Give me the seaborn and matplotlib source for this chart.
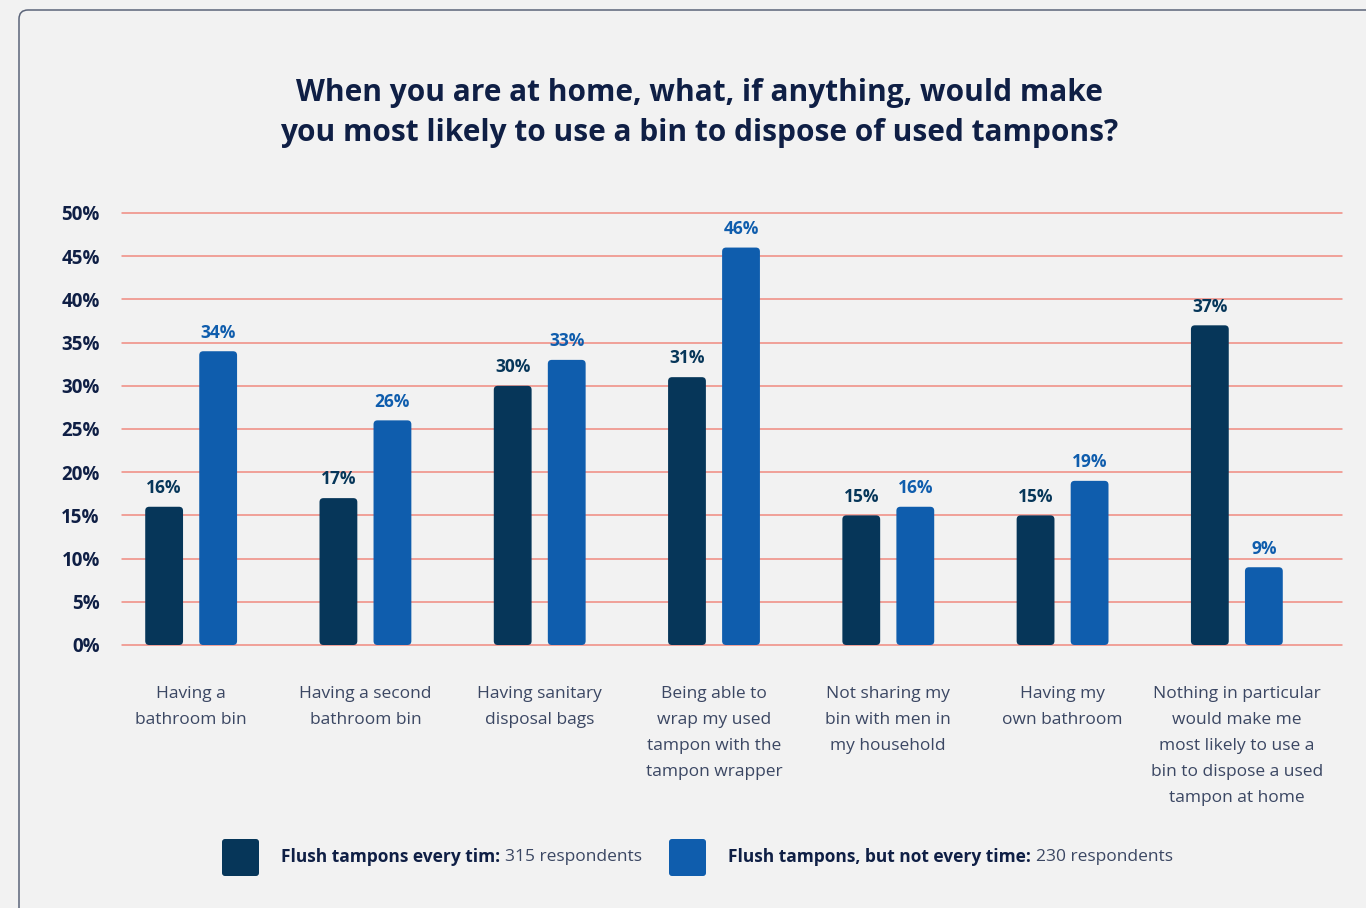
import matplotlib
matplotlib.use("Agg")
import matplotlib.pyplot as plt
from matplotlib.patches import FancyBboxPatch
from matplotlib.transforms import IdentityTransform
import pandas as pd
import seaborn as sns

# Survey answers and shares (%) per respondent group
categories = [
    "Having a\nbathroom bin",
    "Having a second\nbathroom bin",
    "Having sanitary\ndisposal bags",
    "Being able to\nwrap my used\ntampon with the\ntampon wrapper",
    "Not sharing my\nbin with men in\nmy household",
    "Having my\nown bathroom",
    "Nothing in particular\nwould make me\nmost likely to use a\nbin to dispose a used\ntampon at home",
]
every_time = [16, 17, 30, 31, 15, 15, 37]
not_every_time = [34, 26, 33, 46, 16, 19, 9]
group_names = ["Flush tampons every tim:", "Flush tampons, but not every time:"]
group_counts = ["315 respondents", "230 respondents"]
y_ticks = [0, 5, 10, 15, 20, 25, 30, 35, 40, 45, 50]

BG = "#f2f2f2"
DARK = "#063659"
BLUE = "#0f5dad"
NAVY = "#0f1f45"
GRID = "#f08a80"
XLAB = "#3b4763"

sns.set_style("white", rc={"axes.facecolor": BG, "figure.facecolor": BG})
plt.rcParams["font.family"] = ["Open Sans", "DejaVu Sans"]

df = pd.DataFrame({
    "answer": categories * 2,
    "share": every_time + not_every_time,
    "group": [group_names[0]] * len(categories) + [group_names[1]] * len(categories),
})

fig = plt.figure(figsize=(13.66, 9.08), dpi=100)
ax = fig.add_axes([122 / 1366, 1 - 645 / 908, 1220 / 1366, 432 / 908])

sns.barplot(data=df, x="answer", y="share", hue="group", hue_order=group_names,
            palette=[DARK, BLUE], width=0.62, gap=0.3, saturation=1,
            legend=False, ax=ax)

# grid runs a little further right than the category bands
shift = 18 / (1220 / len(categories))
ax.set_xlim(-0.5 + shift, len(categories) - 0.5 + shift)
ax.set_ylim(0, 50)
ax.set_yticks(y_ticks)
ax.set_yticklabels([f"{t}%" for t in y_ticks], fontsize=13.5, fontweight="bold", color=NAVY)
ax.tick_params(axis="y", length=0, pad=16)
ax.tick_params(axis="x", length=0, pad=29.5)
for lbl in ax.get_xticklabels():
    lbl.set_fontsize(12.5)
    lbl.set_color(XLAB)
    lbl.set_linespacing(1.83)
    lbl.set_va("top")
ax.set_xlabel("")
ax.set_ylabel("")
for sp in ax.spines.values():
    sp.set_visible(False)
ax.set_axisbelow(True)
for t in y_ticks:
    ax.axhline(t, color=GRID, lw=1.1, zorder=0, clip_on=False)

# value labels above each bar
for cont, vals, col in zip(ax.containers, [every_time, not_every_time], [DARK, BLUE]):
    ax.bar_label(cont, labels=[f"{v}%" for v in vals], padding=7,
                 fontsize=12.5, fontweight="bold", color=col)

# rounded bar corners
x_per_px = len(categories) / 1220
y_per_px = 50 / 432
for patch in list(ax.patches):
    x0, y0 = patch.get_xy()
    w, h = patch.get_width(), patch.get_height()
    rb = FancyBboxPatch((x0, y0), w, h,
                        boxstyle=f"round,pad=0,rounding_size={4 * x_per_px}",
                        mutation_aspect=y_per_px / x_per_px,
                        facecolor=patch.get_facecolor(), edgecolor="none", zorder=2)
    patch.remove()
    ax.add_patch(rb)

# title
fig.text(699 / 1366, 1 - 113 / 908,
         "When you are at home, what, if anything, would make\nyou most likely to use a bin to dispose of used tampons?",
         ha="center", va="center", fontsize=21.5, fontweight="bold", color=NAVY, linespacing=1.4)

# card outline
card = FancyBboxPatch((19, -30), 1420, 908 - 10 + 30, boxstyle="round,pad=0,rounding_size=9",
                      transform=IdentityTransform(), fill=False, edgecolor="#5b6479", lw=1.1)
fig.add_artist(card)

# legend
fig.canvas.draw()
renderer = fig.canvas.get_renderer()
legend_y = 857
for sq_x, txt_x, col, name, cnt in [(222, 281, DARK, group_names[0], group_counts[0]),
                                     (669, 728, BLUE, group_names[1], group_counts[1])]:
    sq = FancyBboxPatch((sq_x, 908 - 876), 37, 37, boxstyle="round,pad=0,rounding_size=3",
                        transform=IdentityTransform(), facecolor=col, edgecolor="none")
    fig.add_artist(sq)
    t1 = fig.text(txt_x / 1366, 1 - legend_y / 908, name, ha="left", va="center",
                  fontsize=12.5, fontweight="bold", color=NAVY)
    bb = t1.get_window_extent(renderer)
    fig.text((bb.x1 + 5) / 1366, 1 - legend_y / 908, cnt, ha="left", va="center",
             fontsize=12.5, color=XLAB)

fig.savefig("out.png", dpi=100, facecolor=BG)
